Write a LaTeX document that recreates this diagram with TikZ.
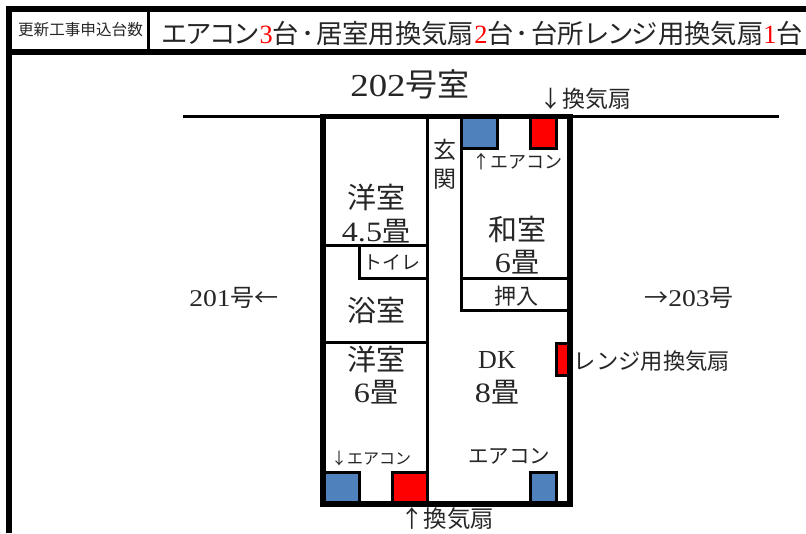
\documentclass[tikz,border=0pt]{standalone}
\usepackage{fontspec}
\setmainfont{Noto Sans CJK JP}
\newfontfamily\serifl{Liberation Serif}
\newfontfamily\serifw[FakeStretch=1.15]{Liberation Serif}
\newlength\pxu
\setlength\pxu{0.75pt}
\newcommand{\ltn}[1]{{\serifw #1}}
\newcommand{\ltp}[1]{{\serifl #1}}
\newcommand{\rd}[1]{{\serifl\textcolor{red}{#1}}}
\newcommand{\kana}[1]{{\addfontfeature{LetterSpace=-9}#1}}
\newcommand{\dotsep}{\hspace{2\pxu}･\hspace{2\pxu}}
\newcommand{\fsz}[1]{\fontsize{#1\pxu}{#1\pxu}\selectfont}
\definecolor{acblue}{HTML}{4F81BD}
\begin{document}
\begin{tikzpicture}[x=\pxu,y=-\pxu,
  lab/.style={inner sep=0pt,text=black!85,align=center},
  frame/.style={line width=6\pxu,draw=black,line cap=butt},
  wall/.style={line width=5.5\pxu,draw=black,line cap=rect},
  thin wall/.style={line width=3\pxu,draw=black,line cap=butt},
  unit/.style={line width=3\pxu,draw=black},
  ac/.style={unit,fill=acblue},
  fan/.style={unit,fill=red}]
\useasboundingbox (0,0) rectangle (806,533);
\fill[white] (0,0) rectangle (806,533);
% sheet frame
\draw[frame] (806,9) -- (9,9) -- (9,533);
\draw[frame] (9,52) -- (806,52);
\draw[thin wall] (148.5,9) -- (148.5,52);
% corridor line
\draw[thin wall] (183,116.5) -- (779,116.5);
% units
\draw[ac] (461.5,116.5) rectangle (497.5,148.5);
\draw[fan] (530.5,116.5) rectangle (556.5,148.5);
\draw[fan] (556.5,343) rectangle (570,375.5);
\draw[ac] (323,472.5) rectangle (359,504);
\draw[fan] (392.5,472.5) rectangle (427,504);
\draw[ac] (530.5,472.5) rectangle (556.5,504);
% inner walls
\draw[thin wall] (427,116.5) -- (427,504);
\draw[thin wall] (461.5,116.5) -- (461.5,312);
\draw[thin wall] (461.5,278.5) -- (570,278.5);
\draw[thin wall] (460,310.5) -- (570,310.5);
\draw[thin wall] (323,245.5) -- (427,245.5);
\draw[thin wall] (359.5,245.5) -- (359.5,278);
\draw[thin wall] (358,278) -- (427,278);
\draw[thin wall] (323,342.5) -- (427,342.5);
% outer walls
\draw[wall] (323,116.5) rectangle (570,504);
% texts
\node[lab,font=\fsz{15.6}] (hdrl) at (80.5,30) {更新工事申込台数};
\node[lab,font=\fsz{26.35},anchor=west] (hdrm) at (161,34) {\kana{エアコン}\rd{3}台\dotsep 居室用換気扇\rd{2}台\dotsep 台所\kana{レンジ}用換気扇\rd{1}台};
\node[lab,font=\fsz{32}] (room) at (410,84) {\ltn{202}号室};
\node[lab,font=\fsz{23}] (fant) at (585,99) {↓換気扇};
\node[lab,font=\fsz{23}] (gen1) at (445,150) {玄};
\node[lab,font=\fsz{23}] (gen2) at (445,179) {関};
\node[lab,font=\fsz{18}] (act) at (517,162) {↑エアコン};
\node[lab,font=\fsz{29}] (yo1) at (376,197) {洋室};
\node[lab,font=\fsz{28}] (yo1b) at (376,231) {\ltn{4.5}畳};
\node[lab,font=\fsz{19}] (toi) at (392,262) {トイレ};
\node[lab,font=\fsz{29}] (wa) at (517,229) {和室};
\node[lab,font=\fsz{28}] (wab) at (517,262) {\ltn{6}畳};
\node[lab,font=\fsz{22}] (osi) at (516,296) {押入};
\node[lab,font=\fsz{29}] (yoku) at (376,310) {浴室};
\node[lab,font=\fsz{29}] (yo2) at (376,359) {洋室};
\node[lab,font=\fsz{28}] (yo2b) at (376,392) {\ltn{6}畳};
\node[lab,font=\fsz{26}] (dk) at (497,360) {\ltp{DK}};
\node[lab,font=\fsz{28}] (dkb) at (497,392) {\ltn{8}畳};
\node[lab,font=\fsz{24}] (n201) at (234,298) {\ltn{201}号←};
\node[lab,font=\fsz{24}] (n203) at (689,298) {→\ltn{203}号};
\node[lab,font=\fsz{22.3}] (range) at (652,361) {レンジ用換気扇};
\node[lab,font=\fsz{16}] (acl) at (371,458) {↓エアコン};
\node[lab,font=\fsz{20.5}] (acr) at (509,456) {エアコン};
\node[lab,font=\fsz{23.5}] (fanb) at (447,519) {↑換気扇};
\end{tikzpicture}
\end{document}
